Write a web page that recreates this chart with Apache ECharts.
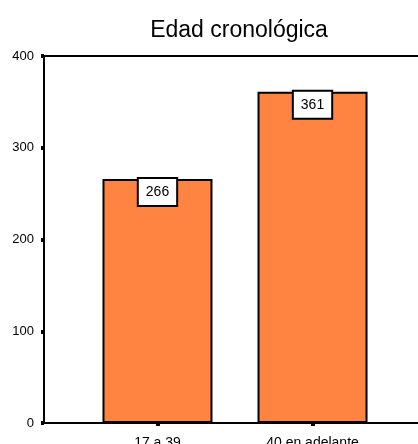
<!DOCTYPE html>
<html>
<head>
<meta charset="utf-8">
<script src="https://cdn.jsdelivr.net/npm/echarts@6/dist/echarts.min.js"></script>
<style>
  html, body { margin: 0; padding: 0; background: #fff; }
  #chart { width: 418px; height: 444px; }
</style>
</head>
<body>
<div id="chart"></div>
<script>
// datos
const categorias = ['17 a 39', '40 en adelante'];
const frecuencias = [266, 361];
const yTicks = [0, 100, 200, 300, 400];

const FONT = '"Liberation Sans", Arial, sans-serif';

const chartDom = document.getElementById('chart');
const myChart = echarts.init(chartDom, null, { renderer: 'canvas' });

// posicion de cada barra = indice de la categoria
const posiciones = categorias.map((c, i) => i);
const serieData = frecuencias.map((v, i) => [posiciones[i], v]);

const option = {
  backgroundColor: '#fff',
  animation: false,
  title: {
    text: 'Edad cronológica',
    left: 234,
    textAlign: 'center',
    top: 14,
    textStyle: {
      fontFamily: FONT,
      fontSize: 23,
      fontWeight: 'normal',
      color: '#000'
    }
  },
  grid: {
    left: 44,
    top: 56,
    bottom: 21,
    right: -8,
    containLabel: false,
    outerBoundsMode: 'none',
    show: true,
    borderColor: '#000',
    borderWidth: 2,
    backgroundColor: 'transparent'
  },
  xAxis: {
    type: 'value',
    min: -0.732,
    max: 1.732,
    splitLine: { show: false },
    axisLine: { show: true, onZero: false, lineStyle: { color: '#000', width: 2 } },
    axisTick: {
      show: true,
      customValues: posiciones,
      length: 3,
      lineStyle: { color: '#000', width: 4 }
    },
    axisLabel: {
      customValues: posiciones,
      margin: 13,
      fontFamily: FONT,
      fontSize: 14,
      color: '#000',
      formatter: (v) => categorias[Math.round(v)]
    }
  },
  yAxis: {
    type: 'value',
    min: 0,
    max: 400,
    interval: 100,
    splitLine: { show: false },
    axisLine: { show: true, onZero: false, lineStyle: { color: '#000', width: 2 } },
    axisTick: { show: true, length: 3, lineStyle: { color: '#000', width: 4 } },
    axisLabel: {
      margin: 10,
      fontFamily: FONT,
      fontSize: 13,
      color: '#000',
      formatter: (v) => (yTicks.includes(v) ? String(v) : '')
    }
  },
  series: [
    {
      type: 'bar',
      barWidth: 110,
      data: serieData,
      itemStyle: {
        color: '#FF8442',
        borderColor: '#000',
        borderWidth: 2
      },
      label: {
        show: true,
        position: 'insideTop',
        distance: 0,
        formatter: (p) => String(p.value[1]),
        fontFamily: FONT,
        fontSize: 14,
        lineHeight: 16,
        color: '#000',
        backgroundColor: '#fff',
        borderColor: '#000',
        borderWidth: 2,
        padding: [5, 7]
      }
    }
  ]
};

myChart.setOption(option);
</script>
</body>
</html>
